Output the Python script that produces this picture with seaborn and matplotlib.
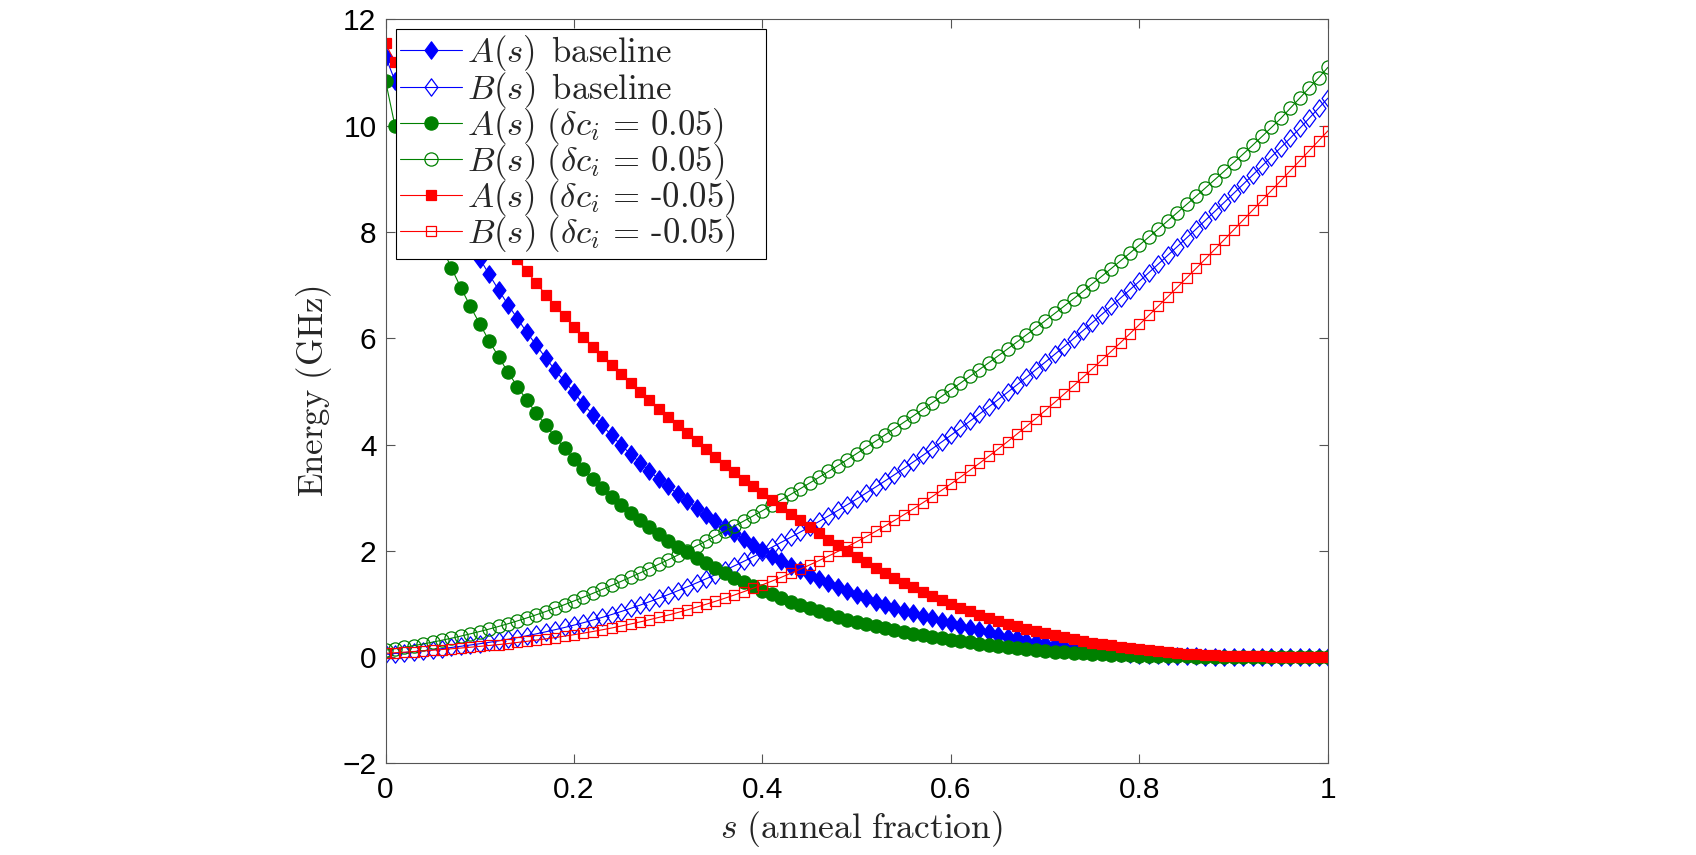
import numpy as np
import matplotlib
matplotlib.use("Agg")
import matplotlib.pyplot as plt
from matplotlib.path import Path
import seaborn as sns

# ---------------- data ----------------
s = np.linspace(0.0, 1.0, 101)

A_base = [11.30, 10.85, 10.41, 10.00, 9.59, 9.21, 8.84, 8.48, 8.14, 7.81, 7.50,
          7.20, 6.91, 6.63, 6.37, 6.11, 5.87, 5.63, 5.40, 5.19, 4.98,
          4.76, 4.56, 4.36, 4.17, 3.99, 3.82, 3.66, 3.50, 3.35, 3.21,
          3.07, 2.94, 2.81, 2.68, 2.56, 2.44, 2.33, 2.22, 2.11, 2.01,
          1.91, 1.81, 1.72, 1.63, 1.55, 1.47, 1.39, 1.31, 1.24, 1.17,
          1.11, 1.04, 0.985, 0.93, 0.87, 0.82, 0.77, 0.73, 0.68, 0.64,
          0.59, 0.55, 0.51, 0.465, 0.42, 0.385, 0.35, 0.31, 0.28, 0.25,
          0.22, 0.19, 0.168, 0.144, 0.123, 0.104, 0.087, 0.072, 0.059, 0.047,
          0.037, 0.029, 0.022, 0.017, 0.013, 0.010, 0.008, 0.006, 0.005, 0.004,
          0.003, 0.002, 0.002, 0.001, 0.001, 0.001, 0.0, 0.0, 0.0, 0.0]

B_base = [0.050, 0.066, 0.082, 0.100, 0.118, 0.138, 0.158, 0.180, 0.202, 0.226, 0.250,
          0.276, 0.304, 0.334, 0.366, 0.400, 0.436, 0.474, 0.514, 0.556, 0.600,
          0.646, 0.695, 0.746, 0.800, 0.856, 0.915, 0.976, 1.040, 1.106, 1.175,
          1.246, 1.319, 1.394, 1.471, 1.550, 1.631, 1.714, 1.799, 1.886, 1.975,
          2.066, 2.159, 2.254, 2.351, 2.450, 2.551, 2.654, 2.759, 2.866, 2.975,
          3.086, 3.199, 3.314, 3.431, 3.550, 3.671, 3.794, 3.919, 4.046, 4.175,
          4.306, 4.438, 4.572, 4.707, 4.844, 4.983, 5.123, 5.265, 5.408, 5.550,
          5.696, 5.843, 5.992, 6.142, 6.294, 6.447, 6.602, 6.758, 6.916, 7.075,
          7.236, 7.397, 7.560, 7.723, 7.888, 8.054, 8.221, 8.389, 8.558, 8.728,
          8.898, 9.070, 9.242, 9.416, 9.590, 9.766, 9.950, 10.140, 10.330, 10.520]

A_pos = [10.85, 10.00, 9.49, 9.01, 8.56, 8.13, 7.71, 7.32, 6.95, 6.60, 6.27,
         5.95, 5.65, 5.36, 5.09, 4.83, 4.59, 4.36, 4.14, 3.93, 3.73,
         3.53, 3.35, 3.18, 3.01, 2.86, 2.71, 2.57, 2.44, 2.31, 2.19,
         2.08, 1.97, 1.87, 1.77, 1.67, 1.58, 1.49, 1.41, 1.33, 1.25,
         1.18, 1.11, 1.04, 0.975, 0.92, 0.86, 0.805, 0.75, 0.705, 0.66,
         0.62, 0.576, 0.537, 0.50, 0.467, 0.435, 0.405, 0.376, 0.35, 0.325,
         0.30, 0.275, 0.25, 0.225, 0.205, 0.185, 0.165, 0.145, 0.13, 0.115,
         0.10, 0.088, 0.077, 0.067, 0.058, 0.05, 0.043, 0.037, 0.031, 0.026,
         0.022, 0.018, 0.015, 0.012, 0.010, 0.008, 0.007, 0.006, 0.005, 0.004,
         0.003, 0.003, 0.002, 0.002, 0.002, 0.001, 0.001, 0.001, 0.001, 0.001]

B_pos = [0.130, 0.156, 0.184, 0.214, 0.246, 0.280, 0.316, 0.354, 0.394, 0.436, 0.480,
         0.526, 0.575, 0.626, 0.680, 0.736, 0.795, 0.856, 0.920, 0.986, 1.055,
         1.126, 1.198, 1.272, 1.347, 1.424, 1.502, 1.582, 1.663, 1.746, 1.830,
         1.916, 2.003, 2.092, 2.182, 2.274, 2.367, 2.462, 2.558, 2.656, 2.755,
         2.856, 2.958, 3.062, 3.167, 3.274, 3.382, 3.492, 3.603, 3.716, 3.830,
         3.946, 4.062, 4.180, 4.298, 4.418, 4.538, 4.660, 4.782, 4.906, 5.030,
         5.156, 5.282, 5.410, 5.538, 5.668, 5.798, 5.930, 6.062, 6.196, 6.330,
         6.466, 6.603, 6.742, 6.882, 7.024, 7.167, 7.312, 7.458, 7.606, 7.755,
         7.906, 8.057, 8.210, 8.363, 8.518, 8.673, 8.830, 8.987, 9.146, 9.305,
         9.467, 9.631, 9.798, 9.967, 10.139, 10.33, 10.52, 10.71, 10.90, 11.10]

A_neg = [11.55, 11.20, 10.86, 10.53, 10.21, 9.89, 9.59, 9.30, 9.02, 8.74, 8.47,
         8.22, 7.96, 7.72, 7.49, 7.26, 7.04, 6.82, 6.61, 6.41, 6.22,
         6.03, 5.84, 5.66, 5.49, 5.32, 5.16, 4.99, 4.83, 4.67, 4.52,
         4.36, 4.21, 4.06, 3.91, 3.77, 3.62, 3.48, 3.34, 3.21, 3.08,
         2.95, 2.82, 2.69, 2.57, 2.45, 2.33, 2.21, 2.10, 1.99, 1.88,
         1.78, 1.68, 1.58, 1.49, 1.40, 1.31, 1.23, 1.15, 1.07, 1.00,
         0.93, 0.86, 0.80, 0.74, 0.68, 0.63, 0.58, 0.53, 0.49, 0.445,
         0.405, 0.37, 0.33, 0.30, 0.27, 0.24, 0.22, 0.19, 0.17, 0.15,
         0.13, 0.11, 0.09, 0.075, 0.06, 0.05, 0.04, 0.03, 0.025, 0.02,
         0.016, 0.013, 0.010, 0.008, 0.006, 0.005, 0.004, 0.003, 0.002, 0.002]

B_neg = [0.070, 0.080, 0.091, 0.103, 0.115, 0.128, 0.141, 0.155, 0.169, 0.184, 0.200,
         0.217, 0.234, 0.253, 0.274, 0.295, 0.318, 0.341, 0.366, 0.393, 0.420,
         0.449, 0.480, 0.512, 0.546, 0.583, 0.621, 0.660, 0.702, 0.745, 0.790,
         0.837, 0.886, 0.938, 0.992, 1.048, 1.106, 1.166, 1.229, 1.293, 1.360,
         1.429, 1.501, 1.576, 1.653, 1.733, 1.815, 1.900, 1.987, 2.077, 2.170,
         2.266, 2.364, 2.466, 2.570, 2.678, 2.788, 2.902, 3.018, 3.138, 3.260,
         3.385, 3.514, 3.645, 3.778, 3.915, 4.054, 4.197, 4.342, 4.489, 4.640,
         4.793, 4.948, 5.105, 5.264, 5.425, 5.588, 5.753, 5.920, 6.089, 6.260,
         6.433, 6.606, 6.781, 6.958, 7.135, 7.314, 7.494, 7.675, 7.857, 8.040,
         8.224, 8.409, 8.594, 8.780, 8.966, 9.153, 9.340, 9.528, 9.716, 9.905]

labels = [r'$A(s)\ \,\mathrm{baseline}$',
          r'$B(s)\ \,\mathrm{baseline}$',
          r'$A(s)\ (\delta c_i\, =\, 0.05)$',
          r'$B(s)\ (\delta c_i\, =\, 0.05)$',
          r'$A(s)\ (\delta c_i\, =\, \text{-}0.05)$',
          r'$B(s)\ (\delta c_i\, =\, \text{-}0.05)$']

x_ticks = [0, 0.2, 0.4, 0.6, 0.8, 1]
x_ticklabels = ['0', '0.2', '0.4', '0.6', '0.8', '1']
y_ticks = [-2, 0, 2, 4, 6, 8, 10, 12]

# ---------------- style ----------------
sns.set_theme(style="white")
plt.rcParams['font.family'] = ['Liberation Sans', 'DejaVu Sans']
plt.rcParams['mathtext.fontset'] = 'cm'
plt.rcParams['axes.unicode_minus'] = True

BLUE = '#0000ff'
GREEN = '#008000'
RED = '#ff0000'

diamond = Path([(0, 1), (0.74, 0), (0, -1), (-0.74, 0), (0, 1)],
               [Path.MOVETO, Path.LINETO, Path.LINETO, Path.LINETO, Path.CLOSEPOLY])

fig = plt.figure(figsize=(16.96, 8.55), dpi=100)
ax = fig.add_axes([0.2273, 0.1073, 0.5557, 0.8699])

series = [
    (A_base, BLUE, diamond, 12.5, BLUE),
    (B_base, BLUE, diamond, 12.5, 'none'),
    (A_pos, GREEN, 'o', 9.5, GREEN),
    (B_pos, GREEN, 'o', 9.5, 'none'),
    (A_neg, RED, 's', 7.6, RED),
    (B_neg, RED, 's', 7.6, 'none'),
]

for (vals, col, mk, ms, fc), lab in zip(series, labels):
    assert len(vals) == len(s)
    sns.lineplot(x=s, y=vals, ax=ax, color=col, linewidth=0.8,
                 marker=mk, markersize=ms, markerfacecolor=fc,
                 markeredgecolor=col, markeredgewidth=0.9,
                 label=lab, sort=False, legend=False)

ax.set_xlim(0, 1)
ax.set_ylim(-2, 12)
ax.set_xticks(x_ticks)
ax.set_xticklabels(x_ticklabels)
ax.set_yticks(y_ticks)

for sp in ax.spines.values():
    sp.set_visible(True)
    sp.set_color('#555555')
    sp.set_linewidth(0.8)

ax.tick_params(axis='both', which='major', direction='in', length=6.7, width=0.8,
               color='#555555', labelcolor='black', labelsize=21.5,
               top=True, right=True, bottom=True, left=True)
ax.tick_params(axis='x', pad=9)
ax.tick_params(axis='y', pad=6.5)
ax.grid(False)
ax.set_facecolor('white')

ax.set_xlabel(r'$s\ \mathrm{(anneal\ fraction)}$', fontsize=25.5, labelpad=1)
ax.xaxis.set_label_coords(0.505, -0.062)
ax.set_ylabel(r'$\mathrm{Energy\ (GHz)}$', fontsize=25, labelpad=6)

leg = ax.legend(loc='upper left', bbox_to_anchor=(0.0108, 0.6861, 0.3924, 0.3007),
                mode='expand', borderaxespad=0,
                fontsize=25, frameon=True, fancybox=False, framealpha=1,
                edgecolor='black', handlelength=1.78, handletextpad=0.15,
                labelspacing=-0.11, borderpad=0.12, numpoints=1)
leg.get_frame().set_linewidth(0.8)

fig.savefig('out.png', dpi=100, facecolor='white')
